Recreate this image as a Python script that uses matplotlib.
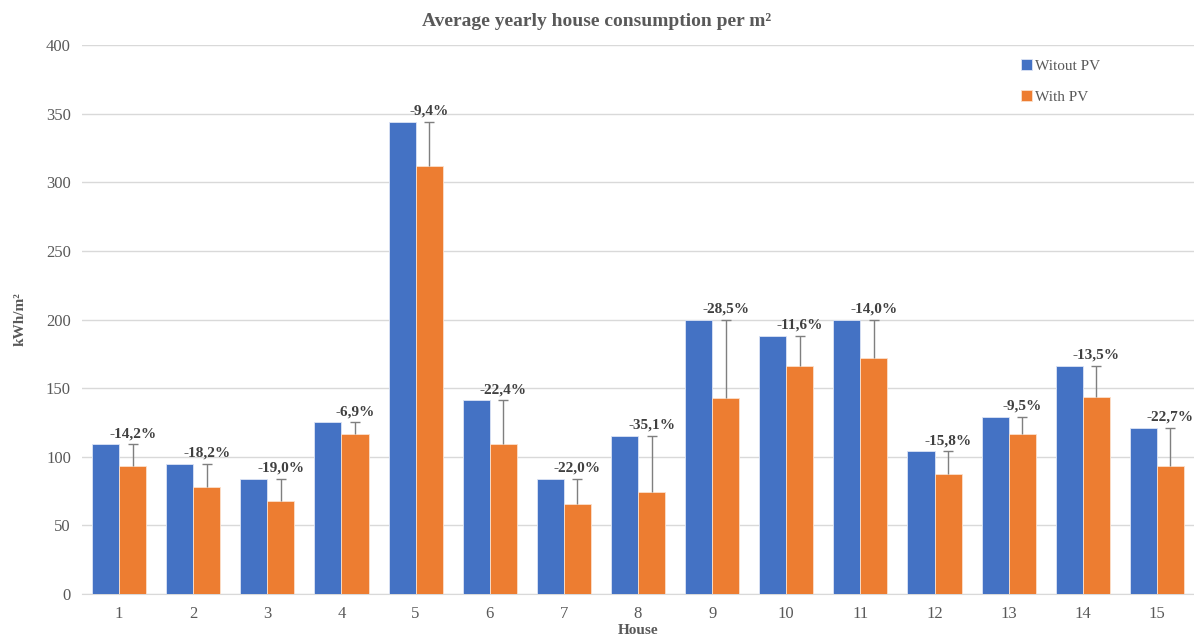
import matplotlib
matplotlib.use("Agg")
import matplotlib.pyplot as plt
import numpy as np

houses = [str(i) for i in range(1, 16)]
without_pv = [109, 95, 84, 125, 344, 141, 84, 115, 200, 188, 200, 104, 129, 166, 121]
with_pv = [93.5, 77.7, 68, 116.4, 311.7, 109.4, 65.5, 74.6, 143, 166.2, 172, 87.5, 116.7, 143.6, 93.3]
pct_labels = ["-14,2%", "-18,2%", "-19,0%", "-6,9%", "-9,4%", "-22,4%", "-22,0%", "-35,1%",
              "-28,5%", "-11,6%", "-14,0%", "-15,8%", "-9,5%", "-13,5%", "-22,7%"]

plt.rcParams['font.family'] = ['Liberation Serif', 'DejaVu Serif']

fig = plt.figure(figsize=(11.94, 6.42), dpi=100)
ax = fig.add_axes([0.0687, 0.0748, 0.9313, 0.855])

blue = '#4472C4'
orange = '#ED7D31'
grey_text = '#595959'

x = np.arange(len(houses))
w = 0.365
ax.bar(x - w/2, without_pv, w, color=blue, edgecolor='#DCE4F5', linewidth=0.6, label='Witout PV', zorder=3)
ax.bar(x + w/2, with_pv, w, color=orange, edgecolor='#FBE0CC', linewidth=0.6, label='With PV', zorder=3)

# plus-direction error bars from the "with PV" value up to the "without PV" value
ax.vlines(x + w/2, with_pv, without_pv, colors='#7F7F7F', linewidth=1, zorder=4)
ax.plot(x + w/2, without_pv, linestyle='none', marker='_', markersize=7,
        markeredgewidth=1, color='#7F7F7F', zorder=4)

for xi, top, lab in zip(x, without_pv, pct_labels):
    ax.annotate(lab, (xi + w/2, top), xytext=(0, 3), textcoords='offset points',
                ha='center', va='bottom', fontsize=11, fontweight='bold', color='#404040', zorder=5)

ax.set_xlim(-0.5, len(houses) - 0.5)
ax.set_ylim(0, 400)
ax.set_yticks(np.arange(0, 401, 50))
ax.set_xticks(x)
ax.set_xticklabels(houses)
ax.grid(axis='y', color='#D9D9D9', linewidth=1, zorder=0)
ax.set_axisbelow(True)
for s in ['top', 'right', 'left']:
    ax.spines[s].set_visible(False)
ax.spines['bottom'].set_color('#D9D9D9')
ax.tick_params(axis='both', length=0, labelsize=12, labelcolor=grey_text, pad=8)
ax.tick_params(axis='x', pad=9)

ax.set_xlabel('House', fontsize=11, fontweight='bold', color=grey_text, labelpad=1)
ax.set_ylabel('kWh/m²', fontsize=11, fontweight='bold', color=grey_text, labelpad=14)
fig.text(0.5, 0.967, 'Average yearly house consumption per m²', ha='center', va='center',
         fontsize=14, fontweight='bold', color=grey_text)

leg = ax.legend(loc='upper left', bbox_to_anchor=(0.832, 1.0), frameon=False, fontsize=11,
                handlelength=0.7, handleheight=0.7, handletextpad=0.2, labelspacing=1.15)
for t in leg.get_texts():
    t.set_color(grey_text)

fig.savefig('out.png', dpi=100)
